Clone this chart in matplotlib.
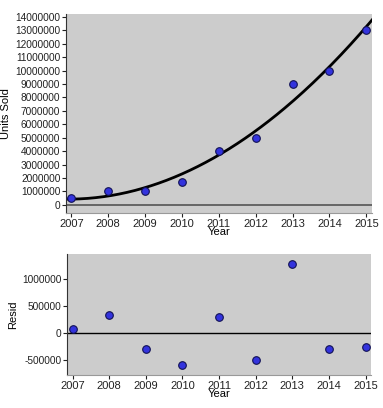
import numpy as np
from matplotlib import pyplot as plt

years = [2007, 2008, 2009, 2010, 2011, 2012, 2013, 2014, 2015]
units_sold = [500000, 1000000, 1000000, 1700000, 4000000, 5000000, 9000000, 10000000, 13000000]
resid = [70000, 330000, -290000, -600000, 290000, -510000, 1280000, -300000, -270000]

plt.rcParams['font.family'] = ['Liberation Sans', 'DejaVu Sans']
plt.rcParams['font.size'] = 7.3

bg = '#cccccc'
dot = '#3333dd'

fig = plt.figure(figsize=(3.83, 4.08), dpi=100)
ax1 = fig.add_axes([0.172, 0.478, 0.799, 0.488])
ax2 = fig.add_axes([0.175, 0.081, 0.794, 0.296])

# quadratic fit for the top panel
coef = np.polyfit(np.array(years) - 2007, units_sold, 2)
xs = np.linspace(2006.8, 2015.3, 200)
ax1.plot(xs, np.polyval(coef, xs - 2007), color='black', lw=2, zorder=2)
ax1.scatter(years, units_sold, s=30, color=dot, edgecolor='#111155', linewidth=0.8, zorder=3)
ax1.axhline(0, color='#555555', lw=1.2, zorder=1)
ax1.set_xlim(2006.85, 2015.15)
ax1.set_ylim(-600000, 14220000)
ax1.set_yticks(range(0, 14000001, 1000000))
ax1.set_yticklabels([str(v) for v in range(0, 14000001, 1000000)])
ax1.set_ylabel('Units Sold', labelpad=3, fontsize=8)
ax1.set_xlabel('Year', labelpad=-1, fontsize=8)

ax2.scatter(years, resid, s=30, color=dot, edgecolor='#111155', linewidth=0.8, zorder=3)
ax2.axhline(0, color='black', lw=1, zorder=1)
ax2.set_xlim(2006.85, 2015.15)
ax2.set_ylim(-780000, 1460000)
ax2.set_yticks([-500000, 0, 500000, 1000000])
ax2.set_yticklabels(['-500000', '0', '500000', '1000000'])
ax2.set_ylabel('Resid', labelpad=3, fontsize=8)
ax2.set_xlabel('Year', labelpad=-1, fontsize=8)

for ax in (ax1, ax2):
    ax.set_facecolor(bg)
    ax.set_xticks(years)
    ax.spines['top'].set_visible(False)
    ax.spines['right'].set_visible(False)
    ax.spines['left'].set_color('#333333')
    ax.spines['bottom'].set_color('#999999')
    ax.tick_params(length=3, width=0.8, pad=1, colors='#222222')
    ax.tick_params(axis='x', labelsize=8)

fig.savefig('out.png', dpi=100)
